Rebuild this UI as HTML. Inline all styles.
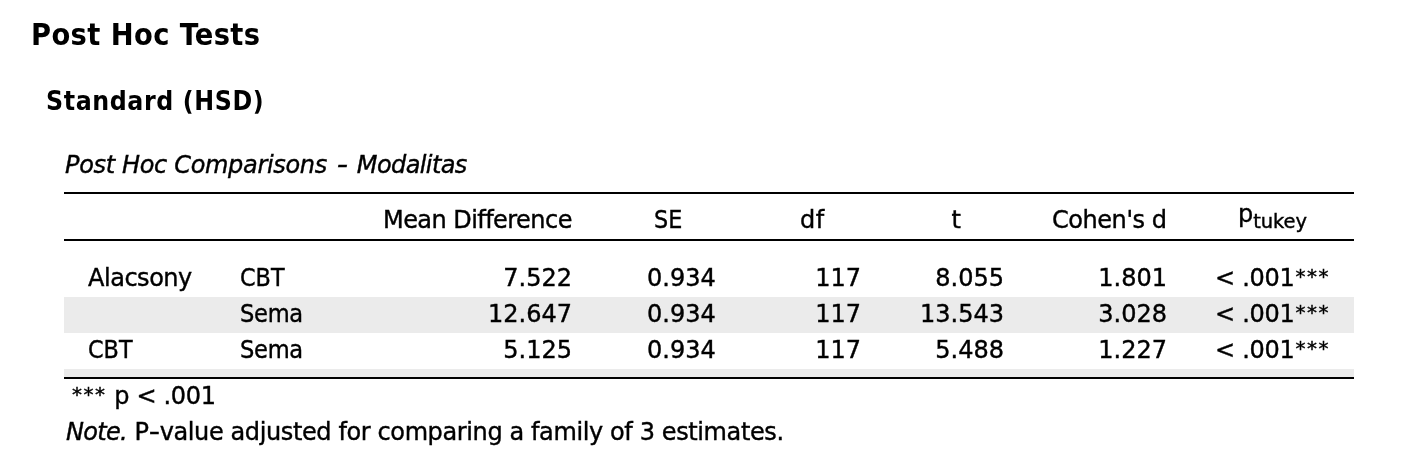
<!DOCTYPE html>
<html lang="en">
<head>
<meta charset="utf-8">
<title>Post Hoc Tests</title>
<style>
html,body{margin:0;padding:0;background:#fff;}
body{width:1420px;height:460px;position:relative;overflow:hidden;color:#000;
  font-family:"DejaVu Sans","Liberation Sans",sans-serif;font-size:24px;-webkit-text-stroke:0.4px #000;}
h1,h2{-webkit-text-stroke:0;margin:0;padding:0;position:absolute;white-space:nowrap;font-weight:bold;line-height:1;
  font-family:"DejaVu Sans Condensed","DejaVu Sans","Liberation Sans",sans-serif;font-stretch:condensed;}
h1{left:31px;top:20px;font-size:30.4px;letter-spacing:0.4px;}
h2{left:46px;top:88px;font-size:26.4px;letter-spacing:0.6px;}
.cap{position:absolute;left:65px;top:153px;font-style:italic;line-height:1;white-space:nowrap;}
.c1{letter-spacing:-0.33px;}
.c2{letter-spacing:-0.6px;}
.dash{display:inline-block;transform:scaleX(1.3);margin:0 2.5px 0 3.5px;}
table{position:absolute;left:64px;top:192px;width:1290px;border-collapse:collapse;table-layout:fixed;
  border-top:2px solid #000;border-bottom:2px solid #000;}
th,td{padding:0;margin:0;font-weight:normal;white-space:nowrap;line-height:1;vertical-align:top;}
thead th{height:45px;border-bottom:2px solid #000;text-align:left;}
thead th span{display:inline-block;margin-top:14px;transform-origin:0 50%;}
tr.sp td{height:20px;}
tbody tr.r td{height:36px;}
tbody tr.r td span{display:inline-block;margin-top:5px;transform-origin:0 50%;}
tr.g td{background:#ebebeb;}
tr.end td{height:8px;background:#ebebeb;}
td.l{text-align:left;padding-left:24px;}
td.n{text-align:right;padding-right:23px;}
td.se{padding-right:24.3px;}
td.p{text-align:left;padding-left:25px;}
td.p > span{letter-spacing:-0.3px;}
.ast{font-size:20px;letter-spacing:1.5px;vertical-align:3px;}
tbody tr.r td span.ast{display:inline;margin:0 0 0 1.2px;letter-spacing:1.5px;}
.h-md{padding-left:13px;} .h-md span{letter-spacing:-0.55px;}
.h-se{padding-left:59px;} .h-se span{transform:scaleX(0.93);}
.h-df{padding-left:60px;} .h-df span{letter-spacing:0.6px;}
.h-t{padding-left:67.5px;}
.h-d{padding-left:25px;} .h-d span{letter-spacing:-0.45px;}
.h-p{padding-left:48px;}
thead th.h-p span.pp{display:inline;margin:0;position:relative;top:-6px;}
sub{font-size:19.5px;vertical-align:baseline;letter-spacing:-0.1px;}
.caps{transform:scaleX(0.93);margin-left:-0.5px;}
.ala{letter-spacing:-0.47px;}
.sema{transform:scaleX(0.94);letter-spacing:-0.3px;margin-left:-0.5px;}
.fn{position:absolute;left:72px;top:384px;line-height:1;white-space:nowrap;}
.note{position:absolute;left:66px;top:420px;line-height:1;white-space:nowrap;}
.note i{letter-spacing:-0.7px;}
.nt{letter-spacing:-0.385px;}
.dash2{display:inline-block;transform:scaleX(1.3);margin:0 1.8px 0 0.9px;}
.fp{letter-spacing:-0.3px;}
</style>
</head>
<body>
<h1>Post Hoc Tests</h1>
<h2>Standard (HSD)</h2>
<div class="cap"><span class="c1">Post Hoc Comparisons</span> <span class="dash">-</span> <span class="c2">Modalitas</span></div>
<table>
<colgroup>
<col style="width:152px"><col style="width:154px"><col style="width:225px"><col style="width:145px">
<col style="width:144px"><col style="width:143px"><col style="width:163px"><col style="width:164px">
</colgroup>
<thead>
<tr>
<th></th><th></th>
<th class="h-md"><span>Mean Difference</span></th>
<th class="h-se"><span>SE</span></th>
<th class="h-df"><span>df</span></th>
<th class="h-t"><span>t</span></th>
<th class="h-d"><span>Cohen's d</span></th>
<th class="h-p"><span><span class="pp">p</span><sub>tukey</sub></span></th>
</tr>
</thead>
<tbody>
<tr class="sp"><td colspan="8"></td></tr>
<tr class="r"><td class="l"><span class="ala">Alacsony</span></td><td class="l"><span class="caps">CBT</span></td>
<td class="n"><span>7.522</span></td><td class="n se"><span>0.934</span></td>
<td class="n"><span>117</span></td><td class="n"><span>8.055</span></td>
<td class="n"><span>1.801</span></td><td class="p"><span>&lt; .001<span class="ast">***</span></span></td></tr>
<tr class="r g"><td class="l"></td><td class="l"><span class="sema">Sema</span></td>
<td class="n"><span>12.647</span></td><td class="n se"><span>0.934</span></td>
<td class="n"><span>117</span></td><td class="n"><span>13.543</span></td>
<td class="n"><span>3.028</span></td><td class="p"><span>&lt; .001<span class="ast">***</span></span></td></tr>
<tr class="r"><td class="l"><span class="caps">CBT</span></td><td class="l"><span class="sema">Sema</span></td>
<td class="n"><span>5.125</span></td><td class="n se"><span>0.934</span></td>
<td class="n"><span>117</span></td><td class="n"><span>5.488</span></td>
<td class="n"><span>1.227</span></td><td class="p"><span>&lt; .001<span class="ast">***</span></span></td></tr>
<tr class="end"><td colspan="8"></td></tr>
</tbody>
</table>
<div class="fn"><span class="ast">***</span> <span class="fp">p &lt; .001</span></div>
<div class="note"><i>Note.</i> <span class="nt">P<span class="dash2">-</span>value adjusted for comparing a family of 3 estimates.</span></div>
</body>
</html>
